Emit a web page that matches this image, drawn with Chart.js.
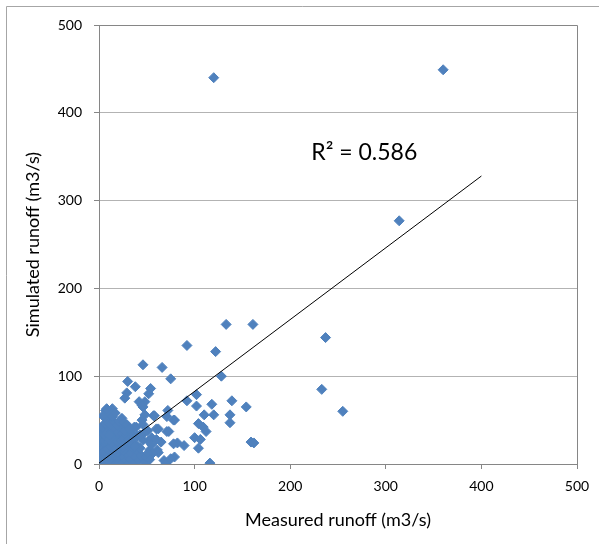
<!DOCTYPE html>
<html>
<head>
<meta charset="utf-8">
<script src="https://cdn.jsdelivr.net/npm/chart.js@4.4.1/dist/chart.umd.min.js"></script>
<style>
  html, body { margin: 0; padding: 0; background: #fff; }
  #wrap { width: 599px; height: 544px; }
</style>
</head>
<body>
<div id="wrap"><canvas id="runoffChart" width="599" height="544"></canvas></div>
<script>
// ---------------- Data ----------------
const measured = [
  120, 360, 314, 237, 233, 255,
  133, 161, 92, 122, 128, 102, 92, 102, 118, 139, 154, 110, 120, 137, 137, 104, 109, 112, 100, 106, 82, 89, 104, 159, 162, 116, 79, 79,
  46, 66, 75, 30, 38, 54, 29, 52, 27, 48, 42, 46, 7, 14, 45, 48, 71, 72, 78, 73, 61, 68, 78, 70, 75, 48, 52, 62, 39, 71, 57, 55, 60, 65,
  0, 1, 1, 2, 0, 2, 1, 3, 2, 1, 3, 2, 0, 3, 1,
  4, 5, 6, 5, 7, 6, 8, 5, 7, 9, 6, 8, 4, 10, 8, 5, 9, 10, 7, 9, 10, 8, 10,
  11, 12, 13, 12, 14, 11, 15, 13, 16, 12, 15, 14, 17, 16, 17, 16, 17, 11, 13,
  18, 19, 20, 18, 21, 19, 22, 20, 23, 19, 21, 24, 22, 24, 23, 20, 24,
  25, 26, 27, 25, 28, 26, 29, 27, 30, 26, 28, 31, 30, 29, 31,
  32, 33, 34, 35, 33, 36, 34, 37, 32, 38, 40, 39, 36, 40,
  42, 44, 46, 43, 48, 51, 53, 45, 47, 50, 55, 58, 60, 62, 56, 43, 38, 51, 46, 53
];
const simulated = [
  440, 449, 277, 144, 85, 60,
  159, 159, 135, 128, 100, 79, 72, 66, 68, 72, 65, 56, 56, 56, 47, 46, 42, 37, 30, 28, 24, 21, 18, 25, 24, 1, 50, 8,
  113, 110, 97, 94, 88, 86, 81, 80, 75, 71, 71, 65, 61, 63, 67, 56, 54, 61, 50, 37, 16, 4, 23, 1, 6, 6, 26, 13, 42, 37, 55, 30, 40, 25,
  0, 2, 5, 9, 12, 16, 20, 24, 28, 33, 37, 41, 3, 1, 8,
  3, 7, 12, 18, 22, 26, 30, 34, 38, 42, 46, 51, 55, 58, 63, 14, 5, 10, 1, 17, 25, 35, 46,
  2, 7, 13, 19, 23, 28, 32, 37, 41, 45, 49, 54, 58, 3, 10, 16, 27, 33, 0,
  1, 6, 12, 18, 22, 26, 31, 36, 40, 44, 48, 52, 5, 15, 27, 0, 35,
  2, 8, 14, 19, 24, 29, 33, 38, 43, 47, 4, 10, 20, 45, 28,
  1, 6, 12, 18, 24, 30, 35, 42, 40, 8, 15, 22, 0, 32,
  4, 10, 27, 18, 2, 38, 16, 50, 35, 8, 22, 55, 28, 40, 12, 33, 20, 12, 45, 5
];
const trendX = [0, 400];
const trendY = [1, 328];
const axisTicks = [0, 100, 200, 300, 400, 500];
const rSquaredText = "R² = 0.586";
const rSquaredAt = [222, 355];

const BLUE = "#4F81BD";
const AXIS_GRAY = "#868686";
const GRID_GRAY = "#b3b3b3";
const FONT = "Lato";

// ---------------- Plugins ----------------
const frame = {
  id: "frame",
  beforeDatasetsDraw(chart) {
    const { ctx, chartArea: a } = chart;
    ctx.save();
    ctx.strokeStyle = AXIS_GRAY;
    ctx.lineWidth = 1;
    ctx.beginPath();
    ctx.moveTo(a.left, a.top + 0.5);
    ctx.lineTo(a.right + 0.5, a.top + 0.5);
    ctx.lineTo(a.right + 0.5, a.bottom);
    ctx.stroke();
    // outer chart border (left and top only visible)
    ctx.strokeStyle = "#a6a6a6";
    ctx.beginPath();
    ctx.moveTo(6.5, chart.height);
    ctx.lineTo(6.5, 6.5);
    ctx.lineTo(chart.width, 6.5);
    ctx.stroke();
    ctx.restore();
  }
};

const rLabel = {
  id: "rLabel",
  afterDatasetsDraw(chart) {
    const { ctx, scales } = chart;
    ctx.save();
    ctx.fillStyle = "#000";
    ctx.font = `23px ${FONT}`;
    ctx.textAlign = "left";
    ctx.textBaseline = "middle";
    ctx.fillText(rSquaredText, scales.x.getPixelForValue(rSquaredAt[0]), scales.y.getPixelForValue(rSquaredAt[1]));
    ctx.restore();
  }
};

// ---------------- Chart ----------------
new Chart(document.getElementById("runoffChart"), {
  type: "scatter",
  data: {
    datasets: [
      {
        label: "Trend",
        data: trendX.map((x, i) => ({ x, y: trendY[i] })),
        showLine: true,
        borderColor: "#000",
        borderWidth: 1,
        pointRadius: 0
      },
      {
        label: "Runoff",
        data: measured.map((x, i) => ({ x, y: simulated[i] })),
        pointStyle: "rectRot",
        pointRadius: 5,
        backgroundColor: BLUE,
        borderColor: BLUE,
        borderWidth: 1
      }
    ]
  },
  options: {
    responsive: false,
    animation: false,
    layout: { padding: { left: 12, top: 25, right: 22, bottom: 8 } },
    plugins: { legend: { display: false }, tooltip: { enabled: false } },
    scales: {
      x: {
        type: "linear",
        min: 0, max: 500,
        afterBuildTicks: s => { s.ticks = axisTicks.map(v => ({ value: v })); },
        afterFit: s => { s.height = 544 - 8 - 464; },
        grid: { drawOnChartArea: false, color: AXIS_GRAY, tickLength: 5 },
        border: { color: AXIS_GRAY },
        ticks: { color: "#000", padding: 9, font: { family: FONT, size: 14 } },
        title: { display: true, text: "Measured runoff (m3/s)", color: "#000", font: { family: FONT, size: 18 }, padding: { top: 4, bottom: 5 } }
      },
      y: {
        type: "linear",
        min: 0, max: 500,
        afterBuildTicks: s => { s.ticks = axisTicks.map(v => ({ value: v })); },
        afterFit: s => { s.width = 99 - 12; },
        grid: { color: GRID_GRAY, tickColor: AXIS_GRAY, tickLength: 5 },
        border: { color: AXIS_GRAY },
        ticks: { color: "#000", padding: 12, font: { family: FONT, size: 14 } },
        title: { display: true, text: "Simulated runoff (m3/s)", color: "#000", font: { family: FONT, size: 18 }, padding: { top: 10, bottom: 2 } }
      }
    }
  },
  plugins: [frame, rLabel]
});
</script>
</body>
</html>
